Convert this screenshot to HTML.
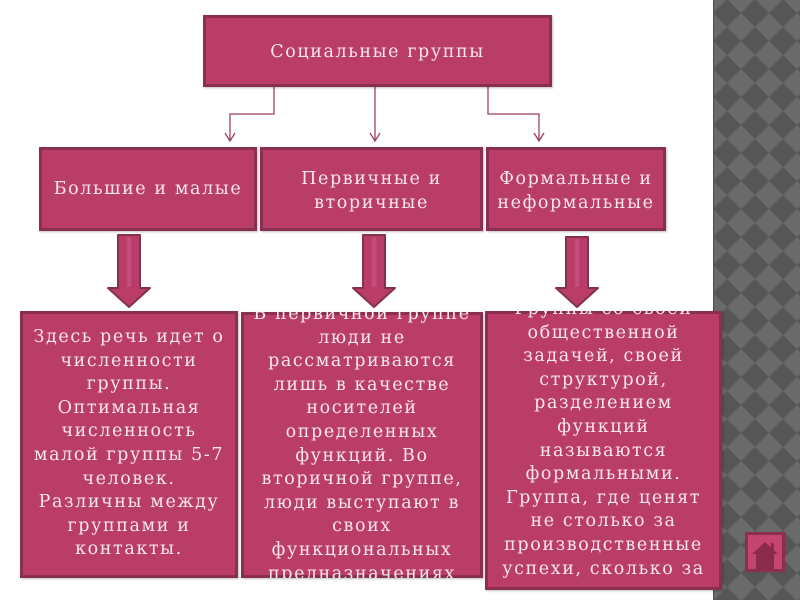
<!DOCTYPE html>
<html>
<head>
<meta charset="utf-8">
<style>
html,body{margin:0;padding:0;}
body{width:800px;height:600px;position:relative;background:#ffffff;overflow:hidden;font-family:"DejaVu Serif","Liberation Serif","Noto Serif CJK SC",serif;}
.box{position:absolute;background:#b93d67;box-shadow:inset 0 0 0 3px #8a2f52, 1px 1px 2px rgba(0,0,0,0.25);overflow:hidden;color:#f8e6ee;font-size:17.5px;letter-spacing:1.6px;text-align:center;z-index:2;}
.t{position:absolute;left:0;right:0;line-height:23.6px;white-space:nowrap;}
svg.bg{position:absolute;left:0;top:0;z-index:1;}
svg.fg{position:absolute;left:0;top:0;z-index:3;}
</style>
</head>
<body>
<svg class="bg" width="800" height="600" viewBox="0 0 800 600">
  <defs>
    <pattern id="dia" patternUnits="userSpaceOnUse" x="713" y="-1" width="28" height="28">
      <rect x="0" y="0" width="28" height="28" fill="#6a6a6a"/>
      <polygon points="14,0 28,14 14,28 0,14" fill="#565656"/>
    </pattern>
    <linearGradient id="shaft" x1="0" y1="0" x2="1" y2="0">
      <stop offset="0" stop-color="#b23862"/>
      <stop offset="0.5" stop-color="#c65080"/>
      <stop offset="1" stop-color="#b23862"/>
    </linearGradient>
  </defs>
  <rect x="713" y="0" width="87" height="600" fill="url(#dia)"/>
  <line x1="713.5" y1="0" x2="713.5" y2="600" stroke="#4e4e4e" stroke-width="1"/>

  <!-- connectors -->
  <g fill="none" stroke="#9e3f66" stroke-width="1.3">
    <path d="M274,87 V114 H230 V141"/>
    <path d="M225,133 L230,141 L235,133"/>
    <path d="M375,87 V141"/>
    <path d="M370,133 L375,141 L380,133"/>
    <path d="M488,87 V114 H539 V141"/>
    <path d="M534,133 L539,141 L544,133"/>
  </g>

  <!-- block arrows -->
  <g stroke="#85304f" stroke-width="2" stroke-linejoin="round">
    <polygon points="118,235 140,235 140,288 150,288 129,307 108,288 118,288" fill="#b93d67"/>
    <polygon points="363,235 385,235 385,288 395,288 374,307 353,288 363,288" fill="#b93d67"/>
    <polygon points="566,237 588,237 588,288 598,288 577,307 556,288 566,288" fill="#b93d67"/>
  </g>
  <rect x="124" y="237" width="10" height="50" fill="url(#shaft)"/>
  <rect x="369" y="237" width="10" height="50" fill="url(#shaft)"/>
  <rect x="572" y="239" width="10" height="48" fill="url(#shaft)"/>
</svg>

<!-- top box -->
<div class="box" style="left:203px;top:15px;width:349px;height:72px;">
  <div class="t" style="top:26px;">Социальные группы</div>
</div>

<!-- row 2 -->
<div class="box" style="left:39px;top:147px;width:218px;height:84px;">
  <div class="t" style="top:31px;">Большие и малые</div>
</div>
<div class="box" style="left:260px;top:147px;width:223px;height:84px;">
  <div class="t" style="top:21px;">Первичные и<br>вторичные</div>
</div>
<div class="box" style="left:486px;top:147px;width:180px;height:84px;">
  <div class="t" style="top:21px;">Формальные и<br>неформальные</div>
</div>

<!-- bottom boxes -->
<div class="box" style="left:20px;top:311px;width:218px;height:267px;">
  <div class="t" style="top:15px;">Здесь речь идет о<br>численности<br>группы.<br>Оптимальная<br>численность<br>малой группы 5-7<br>человек.<br>Различны между<br>группами и<br>контакты.</div>
</div>
<div class="box" style="left:241px;top:312px;width:242px;height:266px;">
  <div class="t" style="top:-9px;">В первичной группе<br>люди не<br>рассматриваются<br>лишь в качестве<br>носителей<br>определенных<br>функций. Во<br>вторичной группе,<br>люди выступают в<br>своих<br>функциональных<br>предназначениях</div>
</div>
<div class="box" style="left:485px;top:311px;width:237px;height:279px;">
  <div class="t" style="top:-13px;">Группы со своей<br>общественной<br>задачей, своей<br>структурой,<br>разделением<br>функций<br>называются<br>формальными.<br>Группа, где ценят<br>не столько за<br>производственные<br>успехи, сколько за</div>
</div>

<!-- home button -->
<svg class="fg" width="800" height="600" viewBox="0 0 800 600" style="pointer-events:none;">
  <rect x="746.5" y="533.5" width="37" height="37" fill="#c4456f" stroke="#8e2d52" stroke-width="3"/>
  <polygon points="752,554 765,542 778,554" fill="#8a2a4d"/>
  <rect x="756" y="553" width="18" height="16" fill="#8a2a4d"/>
  <rect x="771" y="543" width="3" height="8" fill="#8a2a4d"/>
</svg>
</body>
</html>
